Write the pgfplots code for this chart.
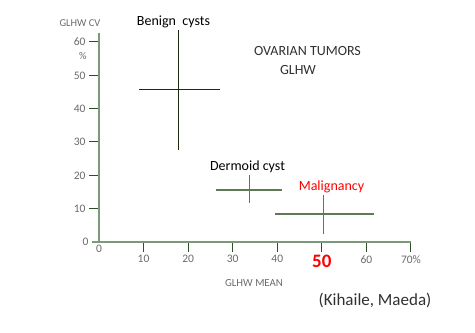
\documentclass[border=0pt]{standalone}
\usepackage{pgfplots}
\pgfplotsset{compat=1.18}
\usepackage{fontspec}
\setmainfont{Carlito}
\definecolor{axisgreen}{HTML}{7A9A78}
\definecolor{tickgreen}{HTML}{2F4F2C}
\definecolor{darkcross}{HTML}{1C2B10}
\definecolor{midcross}{HTML}{5C7B55}
\definecolor{lbl}{HTML}{6A6A6A}
\definecolor{txt}{HTML}{303030}
\begin{document}
\begin{tikzpicture}
\useasboundingbox (0bp,0bp) rectangle (475bp,333bp);
\begin{axis}[
  at={(99bp,91bp)}, anchor=south west,
  scale only axis, width=312bp, height=209bp,
  xmin=0, xmax=70, ymin=0, ymax=62.7,
  axis x line=bottom, axis y line=left,
  axis line style={-, draw=axisgreen, line width=2bp},
  xtick={10,20,30,40,50,60,70},
  xticklabels={10,20,30,40,{\textcolor{red}{\bfseries\fontsize{19bp}{19bp}\selectfont 50}},60,70\%},
  ytick={10,20,30,40,50,60},
  yticklabels={10,20,30,40,50,60},
  extra x ticks={0}, extra x tick labels={0},
  extra x tick style={major tick length=0bp},
  extra y ticks={0}, extra y tick labels={0},
  extra y tick style={major tick length=7bp, tick style={axisgreen, line width=2bp}},
  tick align=outside, major tick length=10bp,
  tick style={tickgreen, line width=1bp},
  tick label style={lbl, font=\fontsize{11.5bp}{12bp}\selectfont},
  /pgf/number format/assume math mode=true,
  clip=false,
]
% Benign cysts
\addplot[darkcross, line width=0.9bp] coordinates {(9.0,45.9) (27.1,45.9)};
\addplot[darkcross, line width=1.1bp] coordinates {(17.9,63.6) (17.9,27.6)};
% Dermoid cyst
\addplot[midcross, line width=1.1bp] coordinates {(26.3,15.6) (41.1,15.6)};
\addplot[midcross, line width=1.3bp] coordinates {(33.7,20.1) (33.7,11.7)};
% Malignancy
\addplot[midcross, line width=1.1bp] coordinates {(39.5,8.4) (61.7,8.4)};
\addplot[midcross, line width=1.3bp] coordinates {(50.3,14.1) (50.3,2.4)};
\end{axis}
\node[lbl, font=\fontsize{10.5bp}{12bp}\selectfont] at (80bp,310bp) {GLHW CV};
\node[lbl, font=\fontsize{10.5bp}{12bp}\selectfont] at (83bp,277bp) {\%};
\node[lbl, font=\fontsize{10.8bp}{12bp}\selectfont] at (254bp,50bp) {GLHW MEAN};
\node[txt, font=\fontsize{17bp}{19bp}\selectfont] at (375bp,33bp) {(Kihaile, Maeda)};
\node[txt, font=\fontsize{14bp}{16bp}\selectfont] at (307.5bp,282bp) {OVARIAN TUMORS};
\node[txt, font=\fontsize{14bp}{16bp}\selectfont] at (298bp,263bp) {GLHW};
\node[black, font=\fontsize{14bp}{16bp}\selectfont] at (173.5bp,311bp) {Benign\ \ cysts};
\node[black, font=\fontsize{14bp}{16bp}\selectfont] at (247.5bp,166bp) {Dermoid cyst};
\node[red, font=\fontsize{14bp}{16bp}\selectfont] at (331.5bp,146bp) {Malignancy};
\end{tikzpicture}
\end{document}
